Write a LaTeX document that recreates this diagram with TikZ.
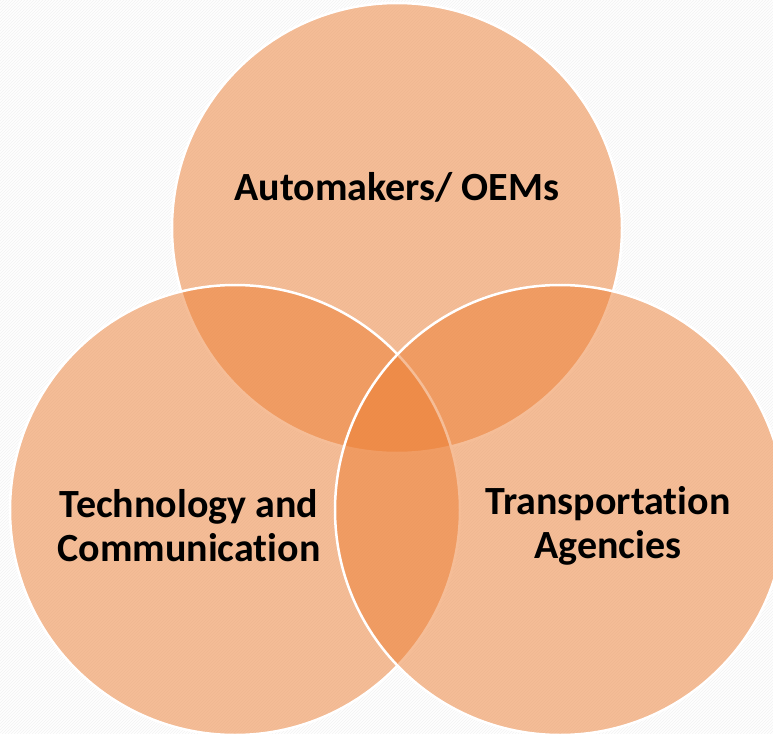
\documentclass[tikz,border=0pt]{standalone}
\usepackage{fontspec}
\setmainfont{Carlito}[Ligatures={NoCommon}]
\usepackage{tikz}
\usetikzlibrary{patterns}
\definecolor{venn}{HTML}{ED7D31}

\begin{document}
\begin{tikzpicture}[x=1pt,y=-1pt]
\useasboundingbox (0,0) rectangle (773,733);
\clip (0,0) rectangle (773,733);
\fill[white] (0,0) rectangle (773,733);
\fill[pattern=north east lines, pattern color=black!5] (0,0) rectangle (773,733);

\begin{scope}[every node/.style={circle,fill=venn,fill opacity=0.5,draw=white,line width=2.5pt,minimum size=450pt,inner sep=0pt}]
    \node (O) at (397,228) {};
    \node (T) at (235,510) {};
    \node (A) at (560,510) {};
\end{scope}

\begin{scope}[every node/.style={font=\bfseries\fontsize{40}{44}\selectfont,align=center,text=black}]
    \node (o) at (397,187) {Automakers/ OEMs};
    \node (t) at (189,526) {Technology and\\Communication};
    \node (a) at (608,526) {Transportation\\Agencies};
\end{scope}
\end{tikzpicture}
\end{document}
